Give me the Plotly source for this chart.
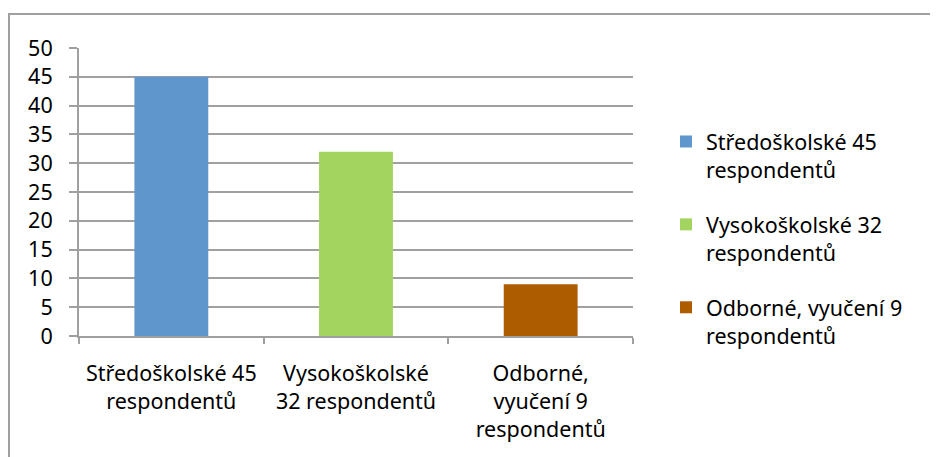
import plotly.graph_objects as go

categories = ["Středoškolské 45<br>respondentů", "Vysokoškolské<br>32 respondentů", "Odborné,<br>vyučení 9<br>respondentů"]
series_names = ["Středoškolské 45<br>respondentů", "Vysokoškolské 32<br>respondentů", "Odborné, vyučení 9<br>respondentů"]
values = [45, 32, 9]
colors = ["#5F96CB", "#A3D45F", "#AD5C00"]
y_ticks = [0, 5, 10, 15, 20, 25, 30, 35, 40, 45, 50]

FONT = "Noto Sans"
FS = 21.5

fig = go.Figure()
for i in range(3):
    fig.add_trace(go.Bar(
        x=[categories[i]], y=[values[i]], name=series_names[i],
        marker=dict(color=colors[i], line=dict(width=0)),
        width=0.4, legendgroup=f"g{i}",
    ))

W, H = 938, 457
L, R, T, B = 71, 313, 40, 129
pw, ph = W - L - R, H - T - B

fig.update_layout(
    width=W, height=H,
    margin=dict(l=L, r=R, t=T, b=B, autoexpand=False),
    paper_bgcolor="white", plot_bgcolor="white",
    font=dict(family=FONT, size=FS, color="#000000"),
    barmode="overlay",
    showlegend=True,
    legend=dict(
        x=(658 - L) / pw, y=(H - 113 - B) / ph, xanchor="left", yanchor="top",
        valign="top", traceorder="grouped", tracegroupgap=24,
        font=dict(family=FONT, size=FS, color="#000000"),
        itemwidth=30,
    ),
    xaxis=dict(
        categoryorder="array", categoryarray=categories,
        showline=True, linecolor="#A0A0A0", linewidth=2,
        ticks="outside", ticklen=6, tickcolor="#A0A0A0", tickwidth=2,
        tickson="boundaries", showgrid=False,
        ticklabelstandoff=17,
        tickfont=dict(family=FONT, size=FS, color="#000000"),
    ),
    yaxis=dict(
        range=[0, 50], tickvals=y_ticks, ticktext=[str(v) for v in y_ticks],
        showline=True, linecolor="#A0A0A0", linewidth=2,
        ticks="outside", ticklen=8, tickcolor="#A0A0A0", tickwidth=2,
        showgrid=True, gridcolor="#A0A0A0", gridwidth=2,
        zeroline=False, ticklabelstandoff=12,
        tickfont=dict(family=FONT, size=FS, color="#000000"),
    ),
    shapes=[dict(
        type="rect", xref="paper", yref="paper",
        x0=(1 - L) / pw, x1=(960 - L) / pw,
        y0=(H - 480 - B) / ph, y1=(H - 6 - B) / ph,
        line=dict(color="#A0A0A0", width=2), fillcolor="rgba(0,0,0,0)",
        layer="below",
    )],
)

fig.write_html("out.html")
